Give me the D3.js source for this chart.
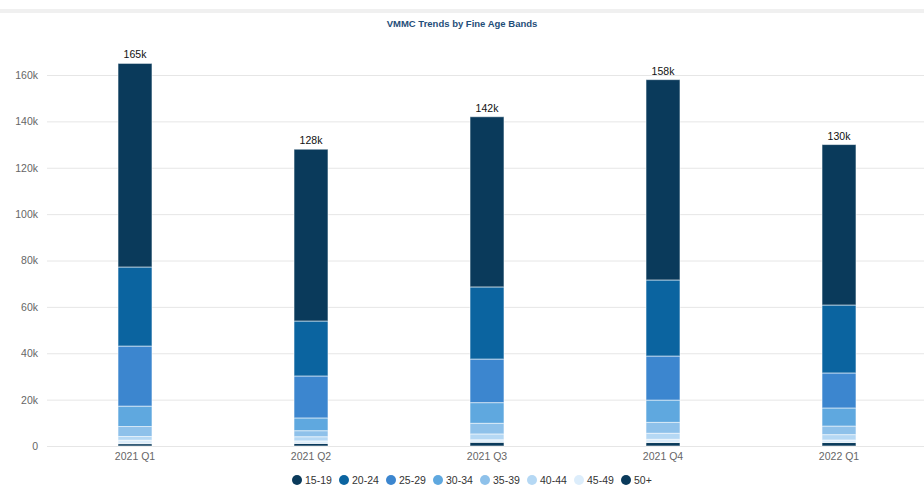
<!DOCTYPE html>
<html>
<head>
<meta charset="utf-8">
<script src="https://cdn.jsdelivr.net/npm/d3@7"></script>
<style>
  html, body { margin: 0; padding: 0; background: #fff; }
  svg { display: block; font-family: "Liberation Sans", Arial, Helvetica, sans-serif; }
</style>
</head>
<body>
<svg id="chart" width="924" height="494"></svg>
<script>
// ---- Data (values in thousands) ----
const categories = ["2021 Q1", "2021 Q2", "2021 Q3", "2021 Q4", "2022 Q1"];
const seriesNames = ["15-19", "20-24", "25-29", "30-34", "35-39", "40-44", "45-49", "50+"];
const s15_19 = [87.8, 74.1, 73.4, 86.4, 69.2];
const s20_24 = [34.1, 23.7, 31.1, 32.8, 29.3];
const s25_29 = [25.9, 18.1, 18.8, 19.0, 15.1];
const s30_34 = [8.8, 5.5, 8.9, 9.6, 7.8];
const s35_39 = [4.3, 2.6, 4.6, 4.7, 3.7];
const s40_44 = [1.6, 1.8, 2.5, 2.6, 2.3];
const s45_49 = [1.5, 1.1, 1.1, 1.4, 1.1];
const s50plus = [1.0, 1.1, 1.6, 1.5, 1.5];
const totalLabels = ["165k", "128k", "142k", "158k", "130k"];
const yTicks = [0, 20, 40, 60, 80, 100, 120, 140, 160];
const yTickLabels = ["0", "20k", "40k", "60k", "80k", "100k", "120k", "140k", "160k"];
const colors = ["#0a3a5b", "#0b64a0", "#3c86cf", "#5fa8df", "#8ec1ea", "#b5d8f4", "#dcedfb", "#0a3a5b"];

const seriesValues = [s15_19, s20_24, s25_29, s30_34, s35_39, s40_44, s45_49, s50plus];
const table = categories.map((c, i) => {
  const row = { cat: c };
  seriesNames.forEach((n, j) => row[n] = seriesValues[j][i]);
  return row;
});

const svg = d3.select("#chart");
const W = 924, H = 494;

// top strip
svg.append("rect").attr("x", 0).attr("y", 9).attr("width", W).attr("height", 4).attr("fill", "#f0f0f0");

// title
svg.append("text").attr("x", 462).attr("y", 27).attr("text-anchor", "middle")
  .attr("font-size", 9.5).attr("font-weight", "bold").attr("fill", "#1f4e79")
  .text("VMMC Trends by Fine Age Bands");

const x = d3.scaleBand().domain(categories).range([47, 927]).paddingInner(0.807).paddingOuter(0.4035);
const y = d3.scaleLinear().domain([0, 160]).range([446, 75]);

// gridlines
svg.append("g").selectAll("line").data(yTicks).join("line")
  .attr("x1", 47).attr("x2", W).attr("y1", d => y(d) + 0.5).attr("y2", d => y(d) + 0.5)
  .attr("stroke", "#e6e6e6").attr("stroke-width", 1);

// y axis labels
const yAxis = d3.axisLeft(y).tickValues(yTicks).tickSize(0).tickPadding(0)
  .tickFormat((d, i) => yTickLabels[i]);
const yg = svg.append("g").attr("transform", "translate(38,0)").call(yAxis);
yg.select(".domain").remove();
yg.selectAll("text").attr("font-size", 10.5).attr("fill", "#666").attr("font-family", "Liberation Sans, Arial, sans-serif");

// x axis labels
const xAxis = d3.axisBottom(x).tickSize(0).tickPadding(0);
const xg = svg.append("g").attr("transform", "translate(0,453)").call(xAxis);
xg.select(".domain").remove();
xg.selectAll("text").attr("font-size", 10.5).attr("fill", "#666").attr("font-family", "Liberation Sans, Arial, sans-serif");

// stacked bars (bottom: 50+, top: 15-19)
const stackKeys = seriesNames.slice().reverse();
const stack = d3.stack().keys(stackKeys)(table);
const colorOf = n => colors[seriesNames.indexOf(n)];

svg.append("g").selectAll("g").data(stack).join("g")
  .attr("fill", d => colorOf(d.key))
  .selectAll("rect").data(d => d).join("rect")
  .attr("x", d => x(d.data.cat))
  .attr("width", x.bandwidth())
  .attr("y", d => y(d[1]))
  .attr("height", d => Math.max(0, y(d[0]) - y(d[1])))
  .attr("stroke", "rgba(255,255,255,0.55)").attr("stroke-width", 1);

// totals
const totals = table.map(r => d3.sum(seriesNames, n => r[n]));
svg.append("g").selectAll("text").data(categories).join("text")
  .attr("x", d => x(d) + x.bandwidth() / 2)
  .attr("y", (d, i) => y(totals[i]) - 5)
  .attr("text-anchor", "middle").attr("font-size", 10.5).attr("fill", "#111")
  .text((d, i) => totalLabels[i]);

// legend
const legendX = d3.scalePoint().domain(seriesNames).range([297, 626]);
const lg = svg.append("g").selectAll("g").data(seriesNames).join("g")
  .attr("transform", d => `translate(${legendX(d)},480)`);
lg.append("circle").attr("r", 5).attr("fill", d => colorOf(d));
lg.append("text").attr("x", 8).attr("y", 4).attr("font-size", 10.5).attr("fill", "#333").text(d => d);
</script>
</body>
</html>
